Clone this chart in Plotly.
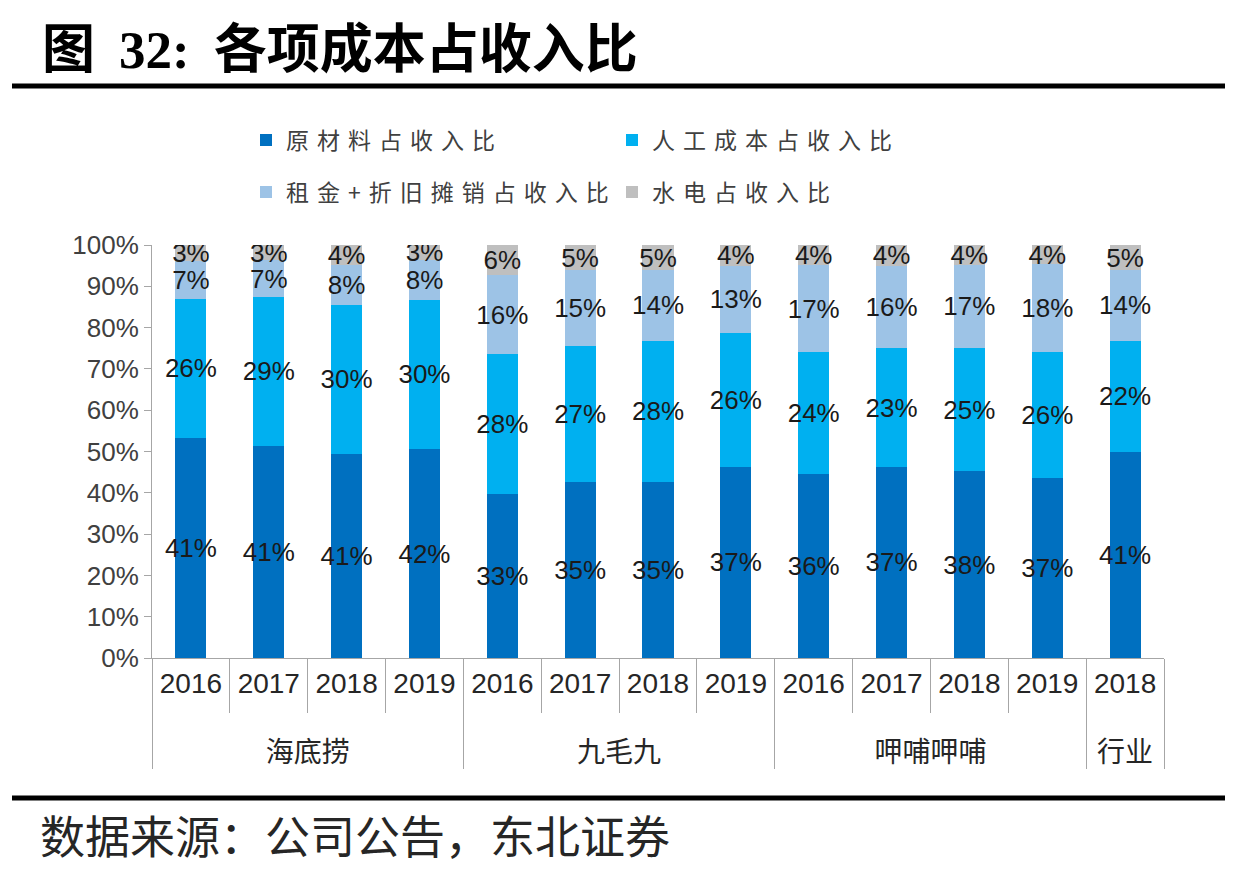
import plotly.graph_objects as go

# ---------------- data ----------------
groups = ["海底捞"] * 4 + ["九毛九"] * 4 + ["呷哺呷哺"] * 4 + ["行业"]
years = ["2016", "2017", "2018", "2019",
         "2016", "2017", "2018", "2019",
         "2016", "2017", "2018", "2019",
         "2018"]
raw_material = [41, 41, 41, 42, 33, 35, 35, 37, 36, 37, 38, 37, 41]
labor = [26, 29, 30, 30, 28, 27, 28, 26, 24, 23, 25, 26, 22]
rent_dep = [7, 7, 8, 8, 16, 15, 14, 13, 17, 16, 17, 18, 14]
utilities = [3, 3, 4, 3, 6, 5, 5, 4, 4, 4, 4, 4, 5]

series_names = ["原材料占收入比", "人工成本占收入比", "租金+折旧摊销占收入比", "水电占收入比"]
series_values = [raw_material, labor, rent_dep, utilities]
series_colors = ["#0070C0", "#00B0F0", "#9DC3E6", "#BFBFBF"]
y_ticks = list(range(0, 101, 10))

# ---------------- layout geometry (pixels) ----------------
# The page body adds an 8px margin, so the figure is drawn 8px smaller and
# every reference pixel position is shifted by that offset.
OFF = 8
W, H = 1248 - OFF, 876 - OFF
L, R, T, B = 152 - OFF, 1164 - OFF, 245 - OFF, 658 - OFF
Wp, Hp = R - L, B - T


def xp(px):
    return (px - OFF - L) / Wp


def yp(py):
    return (B - (py - OFF)) / Hp


NUM_FONT = "Liberation Sans, Arial, Noto Sans CJK SC"
CJK_FONT = "Noto Sans CJK SC, sans-serif"

# group labels are pushed one line lower, as in the reference
group_labels = ["<br>" + g for g in groups]

fig = go.Figure()
legend_ids = ["legend", "legend2", "legend3", "legend4"]
for name, vals, color, lg in zip(series_names, series_values, series_colors, legend_ids):
    fig.add_trace(go.Bar(
        x=[group_labels, years],
        y=vals,
        name=f"<span style='letter-spacing:8px'>{name}</span>",
        marker=dict(color=color, line=dict(width=0)),
        text=[f"{v}%" for v in vals],
        textposition="inside",
        insidetextanchor="middle",
        constraintext="none",
        textangle=0,
        textfont=dict(family=NUM_FONT, size=26, color="#1a1a1a"),
        legend=lg,
        hovertemplate=name + ": %{text}<extra></extra>",
    ))

legend_font = dict(family=CJK_FONT, size=23, color="#404040")
leg_common = dict(orientation="h", font=legend_font, bgcolor="rgba(0,0,0,0)",
                  borderwidth=0, xanchor="left", yanchor="middle", itemwidth=30)

fig.update_layout(
    width=W, height=H,
    margin=dict(l=L, r=W - R, t=T, b=H - B),
    paper_bgcolor="white", plot_bgcolor="white",
    barmode="stack", barnorm="percent", bargap=0.6,
    showlegend=True,
    legend=dict(x=xp(246), y=yp(140), **leg_common),
    legend2=dict(x=xp(612), y=yp(140), **leg_common),
    legend3=dict(x=xp(246), y=yp(192), **leg_common),
    legend4=dict(x=xp(612), y=yp(192), **leg_common),
    title=dict(
        text="<b>图  <span style='font-family:Liberation Serif'>32:</span>  各项成本占收入比</b>",
        font=dict(family=CJK_FONT, size=53, color="#000000"),
        xref="container", x=(42 - OFF) / W, xanchor="left",
        yref="container", y=1 - (49 - OFF) / H, yanchor="middle",
    ),
    yaxis=dict(
        range=[0, 100], tickvals=y_ticks, ticktext=[f"{v}%" for v in y_ticks],
        showgrid=False, zeroline=False,
        showline=True, linecolor="#A6A6A6", linewidth=1,
        ticks="outside", ticklen=7, tickcolor="#A6A6A6",
        tickfont=dict(family=NUM_FONT, size=26, color="#404040"),
    ),
    xaxis=dict(
        type="multicategory",
        showline=True, linecolor="#A6A6A6", linewidth=1,
        ticks="outside", tickson="boundaries", ticklen=54, tickcolor="#A6A6A6",
        showdividers=True, dividercolor="#A6A6A6", dividerwidth=1,
        tickfont=dict(family=NUM_FONT, size=28, color="#262626"),
        showgrid=False,
    ),
    shapes=[
        dict(type="line", xref="paper", yref="paper",
             x0=xp(12), x1=xp(1225), y0=yp(86), y1=yp(86),
             line=dict(color="#000000", width=5)),
        dict(type="line", xref="paper", yref="paper",
             x0=xp(12), x1=xp(1225), y0=yp(798), y1=yp(798),
             line=dict(color="#000000", width=5)),
    ],
    annotations=[
        dict(text="数据来源：公司公告，东北证券", xref="paper", yref="paper",
             x=xp(38), y=yp(834), xanchor="left", yanchor="middle", showarrow=False,
             font=dict(family=CJK_FONT, size=45, color="#262626")),
    ],
)

fig.write_html("out.html")
